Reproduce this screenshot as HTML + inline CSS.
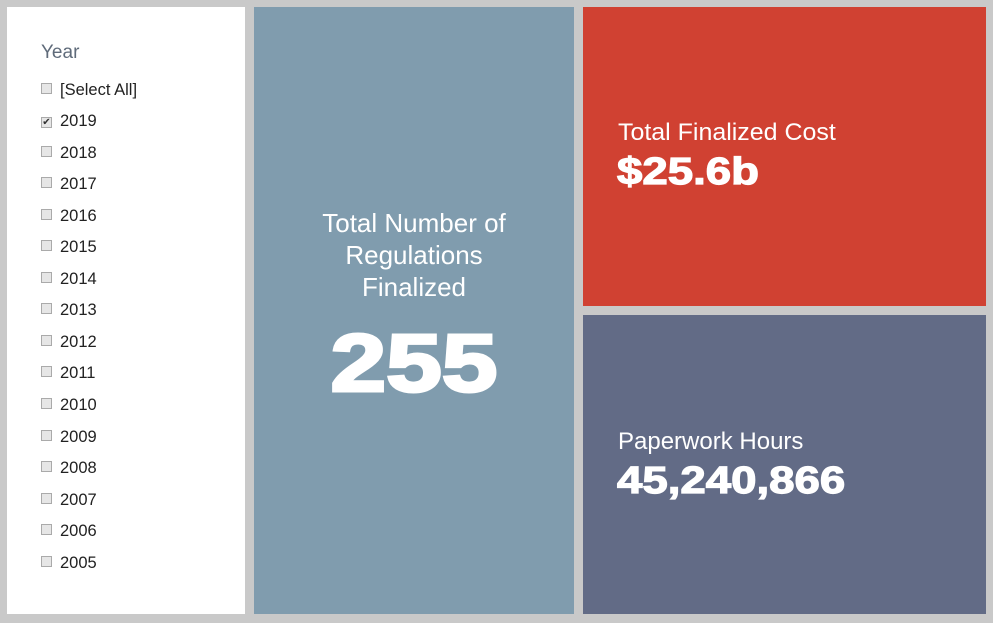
<!DOCTYPE html>
<html><head><style>
body{margin:0;width:993px;height:623px;background:#c9c9c9;font-family:"Liberation Sans",Arial,sans-serif;position:relative;overflow:hidden}
.p{position:absolute}
.w{left:7px;top:7px;width:238px;height:607px;background:#fff}
.b{left:254px;top:7px;width:320px;height:607px;background:#809cae;color:#fff;text-align:center}
.r{left:583px;top:7px;width:403px;height:299px;background:#d04132;color:#fff}
.s{left:583px;top:315px;width:403px;height:299px;background:#626b86;color:#fff}
.yr{position:absolute;left:34px;top:35px;font-size:19px;color:#5f6b7a}
.it{position:absolute;left:34px;font-size:16.5px;color:#222;height:20px;line-height:20px}
.cb{display:inline-block;width:9px;height:9px;border:1px solid #aaa;background:#e6e6e6;margin-right:8px;vertical-align:1px;font-size:10px;line-height:9px;text-align:center;color:#333}
.lbl{position:absolute;left:35px;font-size:24px;transform-origin:left;transform:scaleX(1.0)}
.num{position:absolute;left:34px;font-family:"Liberation Sans",sans-serif;font-weight:bold;font-size:38px;transform-origin:left;transform:scaleX(1.2);-webkit-text-stroke:1.2px #fff}
</style></head><body>
<div class="p w">
<div class="yr">Year</div>
<div class="it" style="top:73px"><span class="cb"></span>[Select All]</div>
<div class="it" style="top:104px"><span class="cb">✔</span>2019</div>
<div class="it" style="top:136px"><span class="cb"></span>2018</div>
<div class="it" style="top:167px"><span class="cb"></span>2017</div>
<div class="it" style="top:199px"><span class="cb"></span>2016</div>
<div class="it" style="top:230px"><span class="cb"></span>2015</div>
<div class="it" style="top:262px"><span class="cb"></span>2014</div>
<div class="it" style="top:293px"><span class="cb"></span>2013</div>
<div class="it" style="top:325px"><span class="cb"></span>2012</div>
<div class="it" style="top:356px"><span class="cb"></span>2011</div>
<div class="it" style="top:388px"><span class="cb"></span>2010</div>
<div class="it" style="top:420px"><span class="cb"></span>2009</div>
<div class="it" style="top:451px"><span class="cb"></span>2008</div>
<div class="it" style="top:483px"><span class="cb"></span>2007</div>
<div class="it" style="top:514px"><span class="cb"></span>2006</div>
<div class="it" style="top:546px"><span class="cb"></span>2005</div>
</div>
<div class="p b">
<div style="position:absolute;left:0;right:0;top:200px;font-size:26px;line-height:32px">Total Number of<br>Regulations<br>Finalized</div>
<div style="position:absolute;left:0;right:0;top:307px;font-size:82px;font-weight:bold;line-height:100px;transform:scaleX(1.22);-webkit-text-stroke:3px #fff">255</div>
</div>
<div class="p r">
<div class="lbl" style="top:112px;transform:scaleX(1.04)">Total Finalized Cost</div>
<div class="num" style="top:144px">$25.6b</div>
</div>
<div class="p s">
<div class="lbl" style="top:113px">Paperwork Hours</div>
<div class="num" style="top:145px">45,240,866</div>
</div>
</body></html>
